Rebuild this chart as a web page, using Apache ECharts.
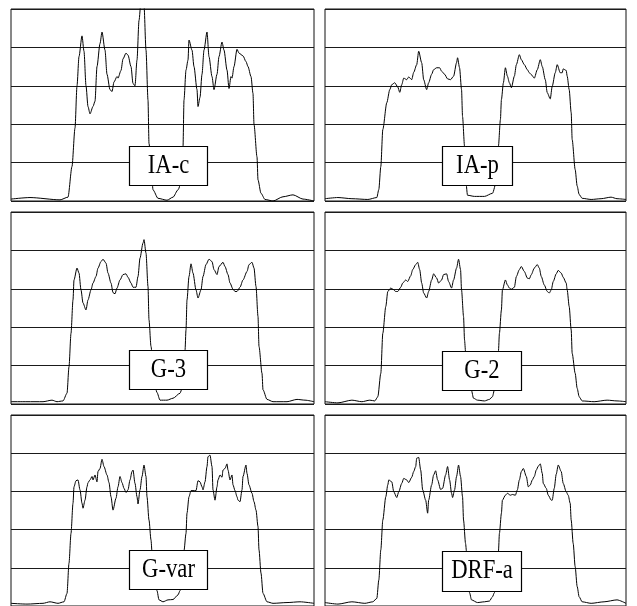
<!DOCTYPE html>
<html>
<head>
<meta charset="utf-8">
<script src="https://cdn.jsdelivr.net/npm/echarts@6/dist/echarts.min.js"></script>
<style>
html,body{margin:0;padding:0;background:#fff;}
#chart{width:637px;height:606px;}
</style>
</head>
<body>
<div id="chart"></div>
<script>
// Panel labels
const panelLabels = ['IA-c', 'IA-p', 'G-3', 'G-2', 'G-var', 'DRF-a'];

// Profile data: [position, intensity]
const profileIAc = [[0,0.05],[19,0.09],[49,0.03],[57,0.1],[61,0.9],[64,1.9],[66,3.0],[68,3.76],[71,4.3],[73,3.9],[75,3.0],[77,2.46],[79,2.27],[82,2.46],[84,2.6],[86,3.5],[89,4.1],[91,4.4],[94,3.93],[96,3.3],[99,2.9],[101,2.85],[103,3.1],[106,3.24],[107,3.2],[110,3.4],[112,3.7],[115,3.85],[117,3.8],[120,3.5],[122,3.06],[124,3.0],[126,3.67],[128,4.7],[130,5.2],[131,5.6],[133,5.1],[135,3.93],[137,2.63],[138,1.5],[141,0.55],[142,0.29],[147,0.07],[156,0.02],[162,0.1],[167,0.29],[171,0.55],[172,1.4],[173,2.63],[175,3.41],[177,3.67],[178,4.19],[181,3.93],[183,3.5],[186,2.9],[187,2.46],[189,2.7],[191,3.3],[193,3.93],[196,4.4],[198,3.76],[201,3.24],[203,2.9],[206,3.3],[208,3.76],[211,4.14],[213,3.93],[216,3.41],[218,2.93],[220,3.24],[221,3.2],[223,3.5],[226,3.95],[228,3.85],[232,3.78],[235,3.63],[237,3.5],[240,3.24],[242,2.8],[243,2.0],[246,1.15],[247,0.55],[250,0.2],[254,0.04],[262,0.0],[272,0.11],[282,0.16],[292,0.05],[303,0.0]];
const profileIAp = [[0,0.06],[13,0.09],[27,0.06],[43,0.04],[52,0.09],[54,0.3],[56,0.9],[58,1.86],[62,2.56],[65,2.9],[67,3.03],[70,3.08],[73,2.97],[75,2.83],[77,3.03],[79,3.2],[82,3.16],[84,3.23],[87,3.16],[89,3.35],[92,3.55],[94,3.9],[97,3.6],[99,3.16],[102,2.9],[104,3.08],[107,3.3],[109,3.42],[112,3.47],[115,3.47],[117,3.38],[120,3.3],[123,3.18],[126,3.16],[129,3.25],[132,3.6],[133,3.73],[135,3.47],[137,2.9],[138,2.2],[140,1.43],[141,0.6],[143,0.15],[150,0.12],[160,0.12],[168,0.2],[172,0.5],[174,1.43],[176,2.12],[177,2.64],[179,3.08],[181,3.47],[183,3.25],[185,3.08],[187,2.95],[190,3.25],[192,3.55],[195,3.81],[197,3.68],[200,3.55],[203,3.42],[205,3.34],[207,3.29],[210,3.2],[213,3.42],[216,3.68],[218,3.5],[221,3.16],[223,2.82],[226,2.66],[228,2.99],[231,3.34],[233,3.55],[236,3.34],[238,3.34],[239,3.44],[242,3.4],[243,3.25],[245,2.9],[247,2.3],[248,1.6],[251,0.82],[253,0.39],[255,0.17],[258,0.07],[267,0.04],[277,0.06],[287,0.1],[293,0.06],[302,0.04]];
const profileG3 = [[0,0.06],[16,0.06],[32,0.06],[41,0.1],[46,0.06],[52,0.08],[56,0.28],[58,0.97],[60,1.84],[62,2.71],[63,3.23],[66,3.54],[68,3.41],[70,2.97],[72,2.63],[75,2.45],[77,2.71],[80,2.97],[82,3.15],[85,3.32],[87,3.54],[90,3.71],[92,3.77],[95,3.67],[97,3.41],[100,3.15],[102,2.9],[104,2.87],[106,3.02],[109,3.23],[112,3.37],[115,3.39],[117,3.3],[120,3.15],[122,3.04],[125,3.04],[127,3.32],[129,3.8],[132,4.19],[133,4.28],[135,3.93],[137,3.06],[138,2.19],[140,1.5],[143,0.6],[146,0.3],[149,0.1],[156,0.1],[162,0.15],[169,0.28],[171,0.4],[173,1.0],[174,1.39],[175,1.93],[176,2.71],[178,3.32],[180,3.65],[182,3.41],[185,2.97],[187,2.76],[190,2.97],[192,3.32],[195,3.63],[198,3.77],[201,3.71],[203,3.5],[206,3.37],[208,3.58],[212,3.69],[214,3.58],[217,3.37],[219,3.15],[222,2.99],[224,2.93],[226,2.93],[229,3.04],[232,3.23],[236,3.45],[238,3.63],[241,3.69],[243,3.54],[245,3.06],[247,2.28],[248,1.5],[251,0.8],[252,0.37],[256,0.12],[262,0.06],[276,0.06],[286,0.12],[294,0.1],[303,0.06]];
const profileG2 = [[0,0.06],[13,0.03],[27,0.1],[37,0.06],[45,0.1],[50,0.08],[53,0.19],[56,0.8],[58,1.84],[61,2.54],[63,2.93],[66,3.02],[68,2.99],[71,2.93],[73,2.93],[76,3.04],[78,3.15],[81,3.23],[83,3.19],[86,3.34],[88,3.5],[91,3.63],[93,3.69],[95,3.5],[97,3.15],[99,2.89],[102,2.76],[104,2.93],[107,3.23],[109,3.39],[112,3.28],[114,3.15],[117,3.23],[119,3.37],[122,3.39],[124,3.19],[127,3.02],[129,3.23],[132,3.54],[134,3.77],[136,3.5],[137,2.97],[139,2.28],[140,1.67],[141,1.37],[145,0.5],[147,0.35],[149,0.15],[153,0.1],[160,0.08],[165,0.12],[168,0.19],[170,0.37],[174,1.37],[175,1.84],[177,2.45],[178,2.97],[181,3.23],[183,3.1],[185,3.02],[187,2.99],[190,3.04],[192,3.32],[195,3.5],[197,3.58],[200,3.45],[203,3.28],[205,3.26],[207,3.37],[210,3.54],[213,3.63],[215,3.54],[217,3.32],[220,3.1],[223,2.93],[225,2.89],[227,2.97],[229,3.19],[232,3.39],[234,3.48],[237,3.41],[239,3.3],[242,3.15],[243,2.97],[245,2.54],[247,1.93],[248,1.32],[251,0.8],[253,0.41],[255,0.19],[258,0.08],[270,0.06],[283,0.1],[293,0.08],[302,0.06]];
const profileGvar = [[0,0.07],[16,0.05],[32,0.07],[39,0.11],[47,0.07],[53,0.11],[56,0.33],[58,1.12],[60,1.9],[62,2.69],[63,3.12],[65,3.28],[67,3.3],[69,3.04],[71,2.69],[72,2.56],[74,2.77],[76,3.12],[77,3.23],[79,3.3],[81,3.39],[82,3.3],[84,3.43],[86,3.25],[87,3.52],[89,3.6],[91,3.84],[93,3.65],[96,3.43],[98,3.23],[100,2.86],[102,2.51],[105,2.82],[107,3.12],[109,3.39],[111,3.23],[113,3.08],[115,2.97],[117,3.04],[119,3.3],[121,3.52],[122,3.56],[124,3.21],[126,2.86],[127,2.67],[129,3.04],[131,3.39],[133,3.69],[135,3.39],[136,2.86],[138,2.25],[140,1.73],[141,1.42],[144,0.7],[146,0.4],[148,0.16],[152,0.11],[157,0.16],[162,0.17],[167,0.29],[169,0.4],[173,1.45],[175,1.9],[176,2.43],[178,2.86],[180,3.02],[182,3.02],[185,3.02],[187,3.28],[189,3.25],[191,3.12],[192,3.04],[194,3.25],[196,3.65],[197,3.91],[199,3.95],[201,3.65],[202,3.04],[204,2.77],[206,3.12],[207,3.3],[209,3.43],[211,3.37],[212,3.56],[214,3.6],[216,3.72],[217,3.56],[219,3.3],[221,3.43],[222,3.17],[224,3.02],[226,2.86],[227,2.77],[229,2.73],[231,3.04],[232,3.39],[235,3.69],[236,3.47],[238,3.17],[241,2.95],[243,2.73],[245,2.51],[247,2.08],[248,1.47],[250,0.86],[252,0.33],[256,0.11],[262,0.07],[276,0.09],[289,0.11],[303,0.07]];
const profileDRFa = [[0,0.09],[13,0.05],[27,0.11],[40,0.07],[48,0.11],[52,0.2],[54,0.68],[56,1.47],[58,2.25],[61,2.86],[63,3.17],[64,3.3],[67,3.25],[69,2.99],[72,2.84],[74,2.99],[77,3.21],[79,3.34],[82,3.3],[84,3.23],[87,3.37],[89,3.52],[91,3.65],[92,3.87],[94,3.89],[96,3.56],[98,3.04],[101,2.77],[103,2.43],[104,2.77],[107,3.17],[109,3.43],[111,3.54],[113,3.3],[116,3.05],[118,3.08],[121,3.43],[123,3.65],[125,3.3],[127,2.95],[128,2.84],[130,3.04],[132,3.39],[134,3.69],[136,3.39],[138,2.86],[139,2.25],[141,1.64],[142,1.42],[145,0.35],[147,0.16],[153,0.09],[160,0.11],[165,0.13],[168,0.24],[170,0.35],[174,1.42],[175,1.9],[177,2.43],[178,2.77],[181,2.9],[183,2.95],[186,2.9],[188,2.92],[191,2.9],[193,3.04],[195,3.3],[197,3.52],[199,3.6],[202,3.39],[204,3.12],[206,3.17],[208,3.3],[210,3.39],[212,3.56],[214,3.66],[216,3.72],[218,3.47],[219,3.21],[222,3.08],[224,2.9],[227,2.77],[228,2.77],[230,3.08],[232,3.45],[234,3.69],[237,3.52],[239,3.21],[242,2.99],[244,2.9],[246,2.69],[247,2.25],[249,1.64],[251,1.03],[253,0.51],[255,0.24],[258,0.11],[267,0.07],[280,0.11],[293,0.16],[302,0.07]];

const profiles = [profileIAc, profileIAp, profileG3, profileG2, profileGvar, profileDRFa];
const xMax = [303, 302, 303, 302, 303, 302];
const yTicks = [0, 1, 2, 3, 4, 5];

// Layout (pixels)
const colLeft = [11, 325];
const colWidth = [303, 301];
const rowTop = [9, 212, 415];
const rowHeight = [192, 192, 191];
const boxes = [
  {x: 129.5, y: 146.5, w: 78, h: 39},
  {x: 442.5, y: 146.5, w: 70, h: 39},
  {x: 129.5, y: 350.5, w: 78, h: 39},
  {x: 442.5, y: 351.5, w: 79, h: 39},
  {x: 129.5, y: 550.5, w: 78, h: 39},
  {x: 442.5, y: 551.5, w: 79, h: 40}
];

const grids = [], xAxes = [], yAxes = [], series = [], graphics = [];
for (let i = 0; i < 6; i++) {
  const r = Math.floor(i / 2), c = i % 2;
  grids.push({
    left: colLeft[c], top: rowTop[r], width: colWidth[c], height: rowHeight[r],
    show: true, borderColor: '#111', borderWidth: 1, backgroundColor: '#fff'
  });
  xAxes.push({
    type: 'value', gridIndex: i, min: 0, max: xMax[i],
    axisLine: {show: false}, axisTick: {show: false}, axisLabel: {show: false}, splitLine: {show: false}
  });
  yAxes.push({
    type: 'value', gridIndex: i, min: yTicks[0], max: yTicks[yTicks.length - 1], interval: 1,
    axisLine: {show: false}, axisTick: {show: false}, axisLabel: {show: false},
    splitLine: {show: true, lineStyle: {color: '#1a1a1a', width: 1}}
  });
  series.push({
    type: 'line', xAxisIndex: i, yAxisIndex: i, data: profiles[i],
    showSymbol: false, symbol: 'none', smooth: 0.25, smoothMonotone: 'x', clip: true,
    lineStyle: {color: '#000', width: 1}, animation: false, z: 3
  });
  const b = boxes[i];
  graphics.push({
    type: 'group', z: 100,
    children: [
      {type: 'rect', z: 100, shape: {x: b.x, y: b.y, width: b.w, height: b.h},
       style: {fill: '#fff', stroke: '#000', lineWidth: 1.2}},
      {type: 'text', z: 101, x: b.x + b.w / 2, y: b.y + 19, scaleX: 0.84, scaleY: 1,
       style: {text: panelLabels[i], fill: '#000', font: '27px "Liberation Serif", "DejaVu Serif", serif',
               textAlign: 'center', textVerticalAlign: 'middle'}}
    ]
  });
}

const chart = echarts.init(document.getElementById('chart'), null, {renderer: 'canvas'});
chart.setOption({
  backgroundColor: '#fff',
  animation: false,
  grid: grids,
  xAxis: xAxes,
  yAxis: yAxes,
  series: series,
  graphic: graphics
});
</script>
</body>
</html>
